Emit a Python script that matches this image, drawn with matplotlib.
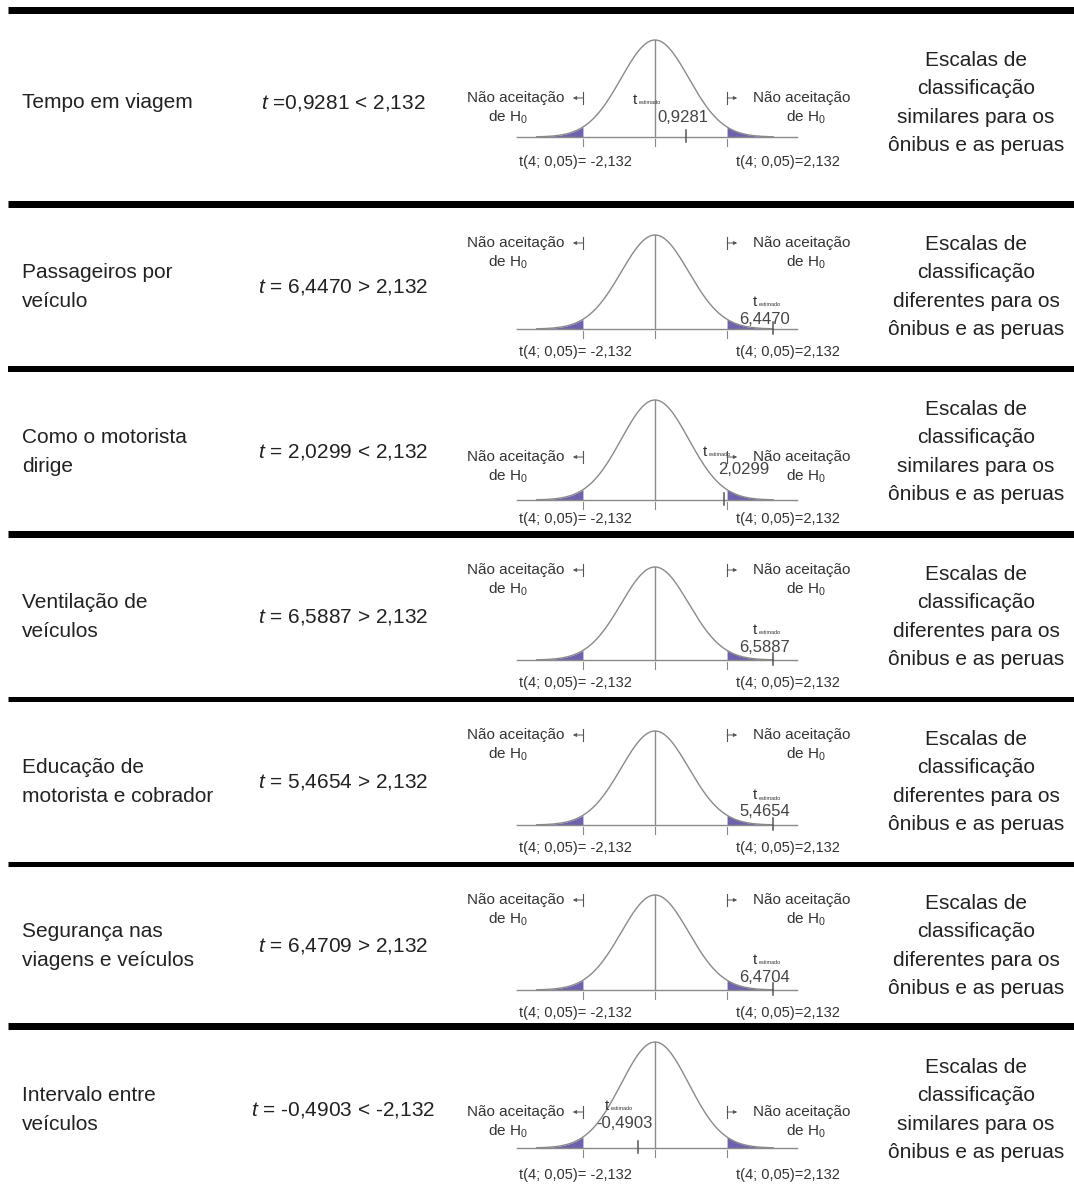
import numpy as np
import matplotlib.pyplot as plt
from matplotlib.transforms import blended_transform_factory

plt.rcParams['font.family'] = ['Liberation Sans', 'DejaVu Sans']
plt.rcParams['mathtext.fontset'] = 'custom'
plt.rcParams['mathtext.rm'] = 'Liberation Sans'
plt.rcParams['mathtext.it'] = 'Liberation Sans:italic'

# dados do teste t por item avaliado
itens = ["Tempo em viagem", "Passageiros por\nveículo", "Como o motorista\ndirige",
         "Ventilação de\nveículos", "Educação de\nmotorista e cobrador",
         "Segurança nas\nviagens e veículos", "Intervalo entre\nveículos"]
t_calc = [0.9281, 6.4470, 2.0299, 6.5887, 5.4654, 6.4709, -0.4903]
t_texto = ["=0,9281 < 2,132", "= 6,4470 > 2,132", "= 2,0299 < 2,132",
           "= 6,5887 > 2,132", "= 5,4654 > 2,132", "= 6,4709 > 2,132",
           "= -0,4903 < -2,132"]
t_rotulo = ["0,9281", "6,4470", "2,0299", "6,5887", "5,4654", "6,4704", "-0,4903"]
t_critico = 2.132
escalas = ["similares", "diferentes", "similares", "diferentes",
           "diferentes", "diferentes", "similares"]

# layout em pixels
linhas_y = [9.5, 203.5, 369, 533.5, 699, 863.5, 1026]
linhas_esp = [7, 7, 6, 7, 5, 5, 7]
meio_y = [103, 287, 452, 617, 782, 946, 1110]
pico_y = [40, 235, 400, 567, 731, 895, 1042]
eixo_y = [137, 329, 500, 660, 825, 990, 1148]
rotulo_y = [98, 243, 457, 570, 735, 900, 1112]
test_y = [100, 302, 452, 630, 795, 960, 1106]
test_x = [640, 760, 710, 760, 760, 760, 612]
valor_x = [683, 765, 744, 765, 765, 765, 624]
crit_y = [162, 352, 519, 683, 848, 1013, 1175]

cx, esc, meia = 655, 33.8, 200
roxo = '#6d62ad'
cinza = '#8a8a8a'
txt = '#333333'

fig = plt.figure(figsize=(10.74, 11.88), dpi=100)
ax = fig.add_axes([0, 0, 1, 1])
ax.set_xlim(0, 1074)
ax.set_ylim(1188, 0)
ax.axis('off')

for y, lw in zip(linhas_y, linhas_esp):
    ax.plot([8, 1074], [y, y], color='black', lw=lw * 0.72, solid_capstyle='butt')

x = np.linspace(-3.5, 3.5, 400)
dens = np.exp(-x ** 2 / 2)
xe = np.linspace(-3.5, -t_critico, 60)
xd = np.linspace(t_critico, 3.5, 60)
pc = lambda px: (px - cx) / esc

for i in range(len(itens)):
    m = meio_y[i]
    ax.text(22, m, itens[i], ha='left', va='center', fontsize=15,
            linespacing=1.65, color='#222222')
    ax.text(343, m, r'$\mathit{t}$ ' + t_texto[i],
            ha='center', va='center', fontsize=15, color='#222222')
    ax.text(976, m, "Escalas de\nclassificação\n%s para os\nônibus e as peruas" % escalas[i],
            ha='center', va='center', fontsize=15, linespacing=1.62, color='#222222')

    top, base = pico_y[i], eixo_y[i]
    ac = fig.add_axes([(cx - meia) / 1074, 1 - base / 1188, 2 * meia / 1074, (base - top) / 1188])
    ac.set_xlim(-meia / esc, meia / esc)
    ac.set_ylim(0, 1)
    ac.axis('off')
    tr = blended_transform_factory(ac.transData, ax.transData)

    ac.fill_between(xe, 0, np.exp(-xe ** 2 / 2), color=roxo, lw=0, clip_on=False)
    ac.fill_between(xd, 0, np.exp(-xd ** 2 / 2), color=roxo, lw=0, clip_on=False)
    ac.plot(x, dens, color=cinza, lw=1, clip_on=False)
    ac.plot([-4.08, 4.2], [0, 0], color=cinza, lw=1, clip_on=False)
    ac.plot([0, 0], [0, 1], color=cinza, lw=1, clip_on=False)

    # marcas abaixo do eixo
    for xv in (-t_critico, 0, t_critico):
        ac.plot([xv, xv], [base + 2, base + 9], color=cinza, lw=0.8, transform=tr, clip_on=False)

    # posição do t estimado (fora da escala fica no fim do eixo)
    te = max(min(t_calc[i], 3.5), -3.5)
    ac.plot([te, te], [base - 7, base + 5], color='#555555', lw=1.1, transform=tr, clip_on=False)

    # regiões de não aceitação
    ry = rotulo_y[i]
    ac.text(pc(564), ry, "Não aceitação", ha='right', va='center', fontsize=11,
            color=txt, transform=tr)
    ac.text(pc(508), ry + 19, "de H$_0$", ha='center', va='center', fontsize=11,
            color=txt, transform=tr)
    ac.text(pc(753), ry, "Não aceitação", ha='left', va='center', fontsize=11,
            color=txt, transform=tr)
    ac.text(pc(806), ry + 19, "de H$_0$", ha='center', va='center', fontsize=11,
            color=txt, transform=tr)
    for s in (-1, 1):
        ac.plot([s * t_critico, s * t_critico], [ry - 6, ry + 6], color='#555555',
                lw=0.8, transform=tr, clip_on=False)
        ac.annotate('', xy=(s * (t_critico + 0.3), ry), xytext=(s * t_critico, ry),
                    xycoords=tr, textcoords=tr,
                    arrowprops=dict(arrowstyle='-|>', lw=0.7, color='#555555',
                                    mutation_scale=5, shrinkA=0, shrinkB=0))

    # t estimado
    ty = test_y[i]
    ac.text(pc(test_x[i]) - 0.1, ty, "t", ha='right', va='center', fontsize=11,
            color=txt, transform=tr)
    ac.text(pc(test_x[i]) - 0.05, ty + 3, "estimado", ha='left', va='center', fontsize=4,
            color=txt, transform=tr)
    ac.text(pc(valor_x[i]), ty + 17, t_rotulo[i], ha='center', va='center', fontsize=12,
            color='#444444', transform=tr)

    # valores críticos
    ac.text(pc(575), crit_y[i], "t(4; 0,05)= -2,132", ha='center', va='center',
            fontsize=10.5, color=txt, transform=tr)
    ac.text(pc(788), crit_y[i], "t(4; 0,05)=2,132", ha='center', va='center',
            fontsize=10.5, color=txt, transform=tr)

fig.savefig('out.png', dpi=100)
